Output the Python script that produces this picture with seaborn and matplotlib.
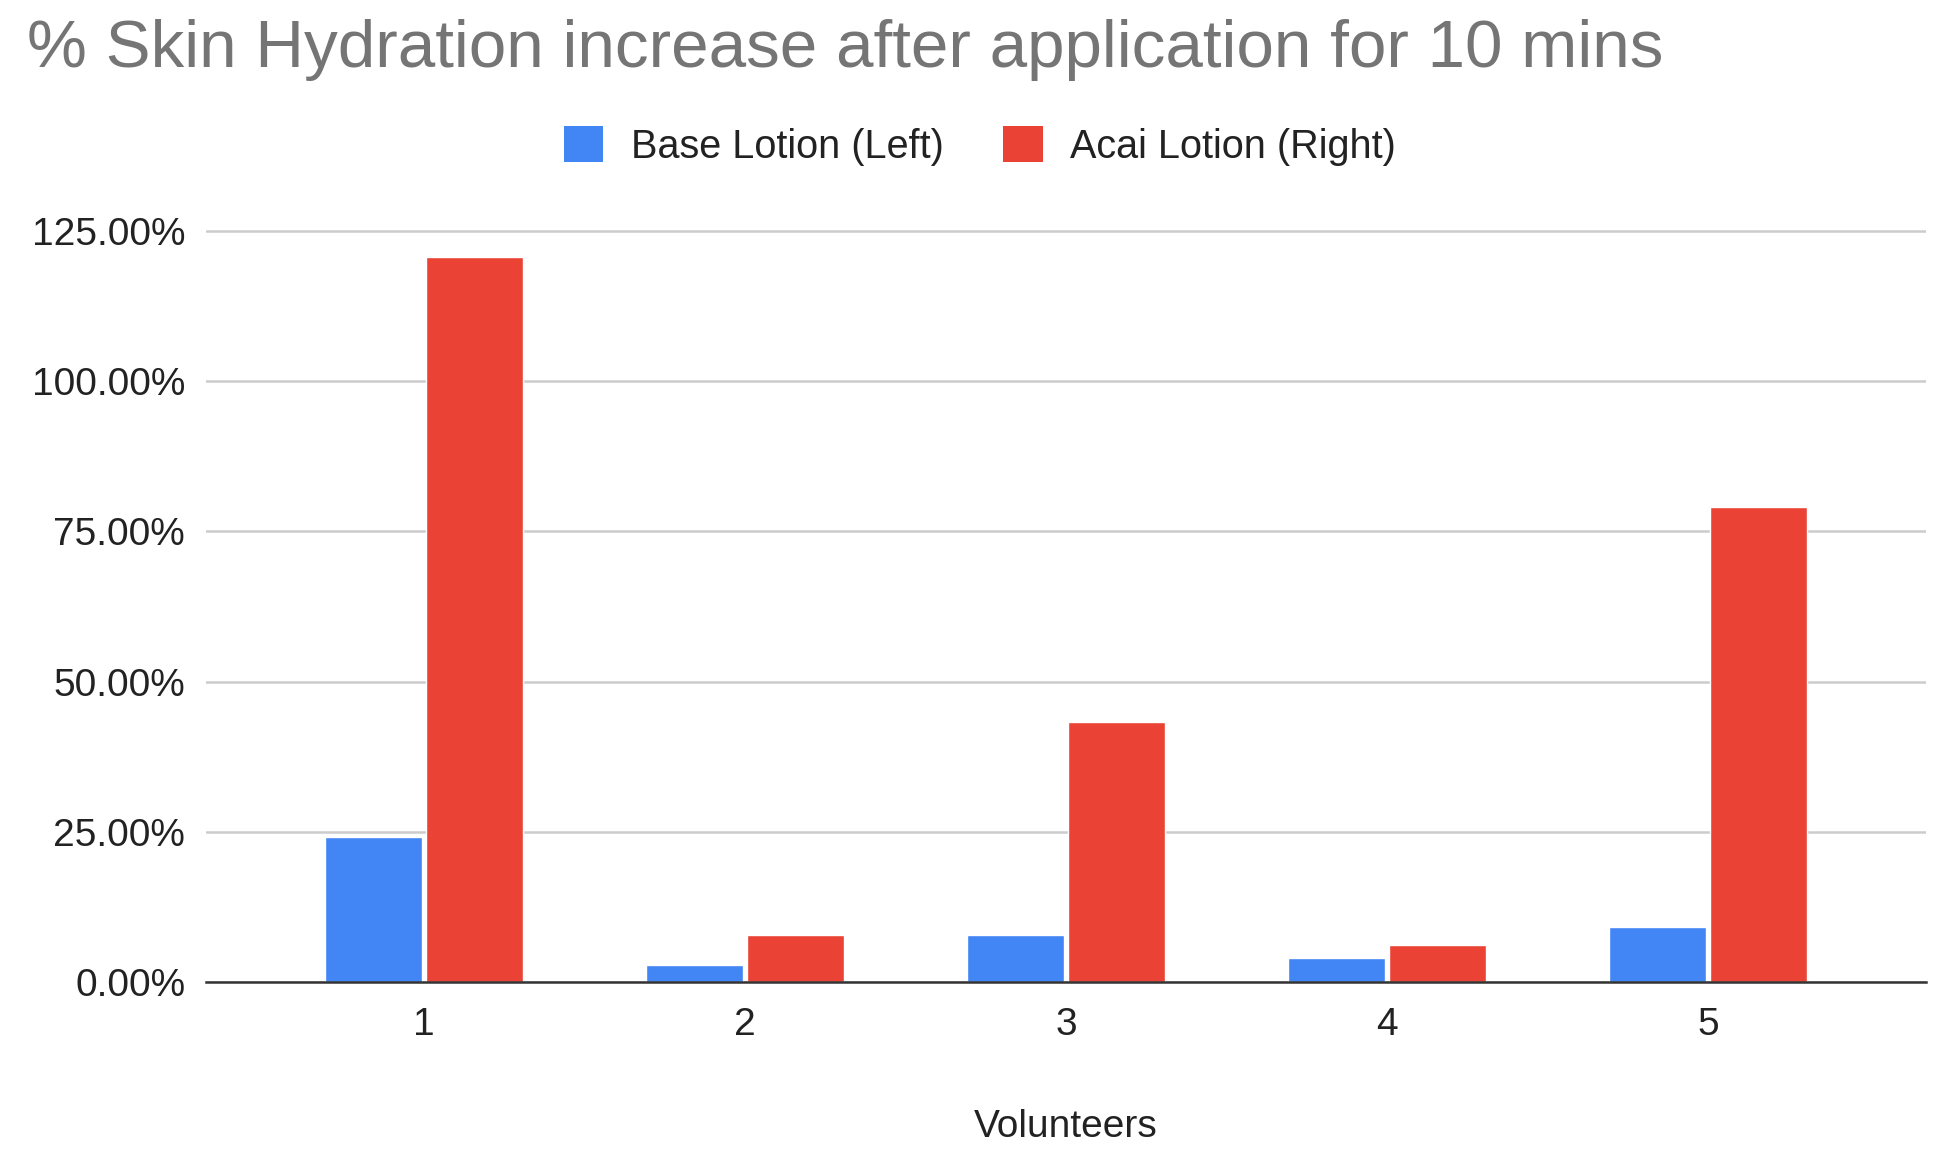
import matplotlib
matplotlib.use("Agg")
import matplotlib.pyplot as plt
import seaborn as sns
import pandas as pd
from matplotlib.ticker import FuncFormatter, FixedLocator
from matplotlib.patches import Patch

volunteers = ["1", "2", "3", "4", "5"]
base_lotion = [24.2, 2.9, 7.9, 4.0, 9.1]
acai_lotion = [120.6, 7.9, 43.3, 6.2, 79.1]
series_names = ["Base Lotion (Left)", "Acai Lotion (Right)"]
y_ticks = [0, 25, 50, 75, 100, 125]

df = pd.DataFrame({
    "Volunteers": volunteers * 2,
    "value": base_lotion + acai_lotion,
    "series": [series_names[0]] * len(volunteers) + [series_names[1]] * len(volunteers),
})

sns.set_theme(style="white")
plt.rcParams["font.family"] = ["Liberation Sans", "DejaVu Sans"]

colors = {series_names[0]: "#4285F4", series_names[1]: "#EA4335"}

W, H = 1948, 1162
fig = plt.figure(figsize=(W / 100, H / 100), dpi=100)
ax_left, ax_right = 206, 1926
ax_bottom_px, ax_top_px = 982, 225
ax = fig.add_axes([ax_left / W, 1 - ax_bottom_px / H,
                   (ax_right - ax_left) / W, (ax_bottom_px - ax_top_px) / H])

sns.barplot(data=df, x="Volunteers", y="value", hue="series", palette=colors,
            width=0.63, gap=0.04, ax=ax, legend=False, saturation=1)

ax.set_xlim(-0.68, 4.68)
ax.set_ylim(0, 126)
ax.yaxis.set_major_locator(FixedLocator(y_ticks))
ax.yaxis.set_major_formatter(FuncFormatter(lambda v, p: f"{v:.2f}%"))
ax.grid(axis="y", color="#cccccc", linewidth=1.8)
ax.grid(axis="x", visible=False)
ax.set_axisbelow(True)
for s in ["top", "right", "left"]:
    ax.spines[s].set_visible(False)
ax.spines["bottom"].set_color("#333333")
ax.spines["bottom"].set_linewidth(1.8)
ax.spines["bottom"].set_zorder(5)

ax.tick_params(axis="y", length=0, pad=15, labelsize=28, labelcolor="#222222")
ax.tick_params(axis="x", length=0, pad=18, labelsize=28, labelcolor="#222222")
ax.set_ylabel("")
ax.set_xlabel("Volunteers", fontsize=28, color="#222222")
ax.xaxis.set_label_coords(0.5, -(1127 - ax_bottom_px) / (ax_bottom_px - ax_top_px))
ax.xaxis.label.set_va("center")

fig.text(27 / W, 1 - 50 / H, "% Skin Hydration increase after application for 10 mins",
         fontsize=48.5, color="#757575", ha="left", va="center")

handles = [Patch(facecolor=colors[n], edgecolor="none", label=n) for n in series_names]
fig.legend(handles=handles, loc="center", bbox_to_anchor=(980 / W, 1 - 146 / H),
           ncol=2, frameon=False, fontsize=28.5, handlelength=1.0, handleheight=1.0,
           handletextpad=0.7, columnspacing=1.5, labelcolor="#222222")

fig.savefig("out.png", dpi=100, facecolor="white")
